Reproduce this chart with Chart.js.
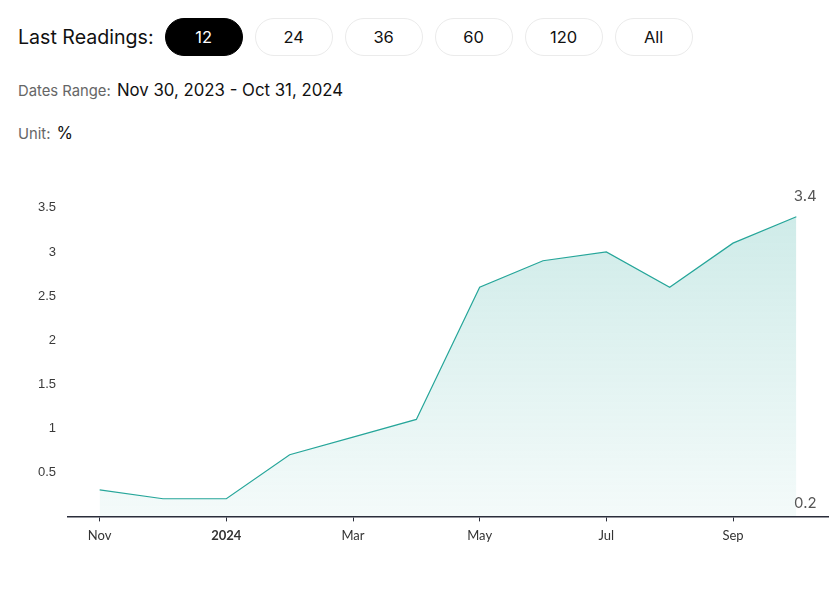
<!DOCTYPE html>
<html>
<head>
<meta charset="utf-8">
<script src="https://cdn.jsdelivr.net/npm/chart.js@4.4.1/dist/chart.umd.min.js"></script>
<style>
  body { margin: 0; background: #fff; font-family: Inter, "Open Sans", sans-serif; width: 838px; height: 590px; overflow: hidden; position: relative; }
  .top { position: absolute; left: 18px; top: 18px; display: flex; align-items: center; }
  .top .lbl { font-size: 19.6px; color: #111; margin-right: 11px; }
  .btn { width: 78px; height: 38px; box-sizing: border-box; border: 1px solid #ebebeb; border-radius: 19px; margin-right: 12px; display: flex; align-items: center; justify-content: center; font-size: 16.5px; color: #111; }
  .btn.on { background: #000; color: #fff; border-color: #000; }
  .meta { position: absolute; left: 18px; font-size: 14.8px; color: #666; }
  .meta b { font-weight: normal; color: #111; font-size: 16.8px; margin-left: 2px; }
  #wrap { position: absolute; left: 0; top: 144px; width: 838px; height: 407px; }
</style>
</head>
<body>
<div class="top">
  <span class="lbl">Last Readings:</span>
  <div class="btn on">12</div><div class="btn">24</div><div class="btn">36</div>
  <div class="btn">60</div><div class="btn">120</div><div class="btn">All</div>
</div>
<div class="meta" style="top:80px">Dates Range: <b>Nov 30, 2023 - Oct 31, 2024</b></div>
<div class="meta" style="top:123px">Unit: <b>%</b></div>
<div id="wrap"><canvas id="c"></canvas></div>
<script>
const months = ['Nov', 'Dec', '2024', 'Feb', 'Mar', 'Apr', 'May', 'Jun', 'Jul', 'Aug', 'Sep', 'Oct'];
const values = [0.3, 0.2, 0.2, 0.7, 0.9, 1.1, 2.6, 2.9, 3.0, 2.6, 3.1, 3.4];
const yTicks = [0.5, 1, 1.5, 2, 2.5, 3, 3.5];

const endLabels = {
  id: 'endLabels',
  afterDatasetsDraw(chart) {
    const ctx = chart.ctx;
    const x = chart.scales.x.getPixelForValue(values.length - 1) + 9;
    const y = chart.scales.y;
    const hi = Math.max(...values), lo = Math.min(...values);
    ctx.save();
    ctx.font = '15px Inter, "Open Sans", sans-serif';
    ctx.fillStyle = '#555';
    ctx.textAlign = 'center';
    ctx.textBaseline = 'middle';
    ctx.fillText(String(hi), x, y.getPixelForValue(hi) - 20);
    ctx.fillText(String(lo), x, chart.chartArea.bottom - 13);
    ctx.restore();
  }
};

new Chart(document.getElementById('c'), {
  type: 'line',
  data: {
    labels: months,
    datasets: [{
      data: values,
      borderColor: '#26a69a',
      borderWidth: 1.2,
      pointRadius: 0,
      tension: 0,
      fill: 'start',
      backgroundColor: (c) => {
        const a = c.chart.chartArea;
        if (!a) return 'rgba(38,166,154,0.2)';
        const g = c.chart.ctx.createLinearGradient(0, a.top, 0, a.bottom);
        g.addColorStop(0, 'rgba(38,166,154,0.25)');
        g.addColorStop(1, 'rgba(38,166,154,0.05)');
        return g;
      }
    }]
  },
  options: {
    responsive: true,
    maintainAspectRatio: false,
    animation: false,
    layout: { padding: { top: 4, right: 10, left: 0, bottom: 0 } },
    plugins: { legend: { display: false }, tooltip: { enabled: false } },
    scales: {
      x: {
        offset: true,
        border: { display: true, color: '#2a2d3a', width: 1.5 },
        grid: { display: true, drawOnChartArea: false, drawTicks: true, tickLength: 5, color: '#2a2d3a', offset: false },
        ticks: {
          autoSkip: false,
          maxRotation: 0,
          padding: 7,
          color: '#333',
          font: (c) => ({ family: 'Lato, sans-serif', size: 13, weight: c.tick && c.tick.label === '2024' ? 'bold' : 'normal' }),
          callback: (v, i) => (i % 2 === 0 ? months[i] : null)
        }
      },
      y: {
        min: 0,
        max: 4,
        afterFit: (s) => { s.width = 68; },
        border: { display: false },
        grid: { display: false, drawTicks: false },
        afterBuildTicks: (s) => { s.ticks = yTicks.map(v => ({ value: v })); },
        ticks: {
          padding: 12,
          color: '#3a3a3a',
          font: { family: '"Liberation Sans", Arial, sans-serif', size: 13 },
          callback: (v) => String(v)
        }
      }
    }
  },
  plugins: [endLabels]
});
</script>
</body>
</html>
